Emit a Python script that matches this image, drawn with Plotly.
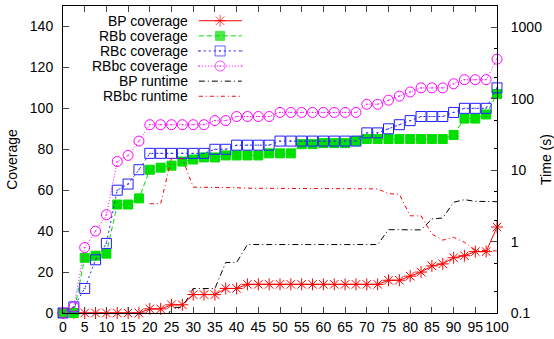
import plotly.graph_objects as go
import math

# ---- data ----
x_vals = [0, 2.5, 5, 7.5, 10, 12.5, 15, 17.5, 20, 22.5, 25, 27.5, 30, 32.5, 35, 37.5, 40,
          42.5, 45, 47.5, 50, 52.5, 55, 57.5, 60, 62.5, 65, 67.5, 70, 72.5, 75, 77.5, 80,
          82.5, 85, 87.5, 90, 92.5, 95, 97.5, 100]

bp_cov = [0, 0, 0, 0, 0, 0, 0, 0, 2, 2, 4, 4, 9, 9, 9, 12, 12, 14, 14, 14, 14, 14, 14, 14,
          14, 14, 14, 14, 14, 14, 16, 16, 18, 20, 23, 24, 27, 28, 30, 30, 42]
rbb_cov = [0, 0, 27, 28, 29, 53, 53, 56, 70, 71, 72, 74, 75, 76, 76, 77, 77, 77, 77, 78, 78,
           78, 82.5, 82.5, 83, 83, 83, 84, 85, 85, 85, 85, 85, 85, 85, 85, 87, 95, 95, 97, 107]
rbc_cov = [0, 3, 12, 26, 34, 60, 63, 70, 78, 78, 78, 78, 78, 78, 80, 80, 82, 82, 82, 82, 84,
           84, 84, 84, 84, 84, 84, 84, 88, 88, 90, 92, 94, 96, 96, 96, 98, 100, 100, 100, 110]
rbbc_cov = [0, 3, 32, 40, 48, 74, 77, 84, 92, 92, 92, 92, 92, 92, 94, 94, 96, 96, 96, 96, 98,
            98, 98, 98, 98, 98, 98, 98, 102, 102, 104, 106, 108, 110, 110, 110, 112, 114, 114,
            114, 124]
bp_rt = [0.05, 0.05, 0.05, 0.05, 0.05, 0.05, 0.05, 0.05, 0.05, 0.05, 0.12, 0.12, 0.22, 0.22,
         0.22, 0.51, 0.51, 0.91, 0.91, 0.91, 0.91, 0.91, 0.91, 0.91, 0.91, 0.91, 0.91, 0.91,
         0.91, 0.91, 1.47, 1.47, 1.46, 1.46, 2.08, 2.14, 3.56, 3.87, 3.67, 3.63, 3.63]
rbbc_rt = [None, None, None, None, None, None, None, None, 3.4, 3.4, 14.7, 14.7, 5.8, 5.8, 5.8,
           5.7, 5.7, 5.6, 5.6, 5.6, 5.55, 5.55, 5.5, 5.5, 5.5, 5.5, 5.5, 5.5, 5.5, 5.46, 4.7,
           4.6, 2.3, 2.3, 1.28, 1.05, 1.15, 0.98, 0.76, 0.75, 0.74]

x_ticks = [0, 5, 10, 15, 20, 25, 30, 35, 40, 45, 50, 55, 60, 65, 70, 75, 80, 85, 90, 95, 100]
y_ticks = [0, 20, 40, 60, 80, 100, 120, 140]
y2_ticks = [0.1, 1, 10, 100, 1000]
y2_minor = [0.2, 0.5, 2, 5, 20, 50, 200, 500, 2000]

# ---- styles ----
FONT = "Liberation Sans, Arial, sans-serif"
RED = "#ff0000"
GREEN = "#00e000"
BLUE = "#2020ff"
MAGENTA = "#ff00ff"
BLACK = "#000000"

series = [
    dict(name="BP coverage", y=bp_cov, axis="y", color=RED, dash="solid",
         symbol="asterisk-open", msize=10, mode="lines+markers"),
    dict(name="RBb coverage", y=rbb_cov, axis="y", color=GREEN, dash="5px,3px",
         symbol="square", msize=9, mode="lines+markers"),
    dict(name="RBc coverage", y=rbc_cov, axis="y", color=BLUE, dash="2px,3px",
         symbol="square-open-dot", msize=10, mode="lines+markers"),
    dict(name="RBbc coverage", y=rbbc_cov, axis="y", color=MAGENTA, dash="1px,2px",
         symbol="circle-open-dot", msize=10, mode="lines+markers"),
    dict(name="BP runtime", y=bp_rt, axis="y2", color=BLACK, dash="6px,3px,1px,3px",
         symbol=None, msize=0, mode="lines"),
    dict(name="RBbc runtime", y=rbbc_rt, axis="y2", color=RED, dash="4px,3px,1px,3px",
         symbol=None, msize=0, mode="lines"),
]

fig = go.Figure()
for s in series:
    marker = None
    if s["symbol"]:
        marker = dict(symbol=s["symbol"], size=s["msize"], color=s["color"],
                      line=dict(color=s["color"], width=1))
    fig.add_trace(go.Scatter(
        x=x_vals, y=s["y"], name=s["name"], mode=s["mode"], yaxis=s["axis"],
        line=dict(color=s["color"], width=1, dash=s["dash"]),
        marker=marker, cliponaxis=False if s["symbol"] else True,
        connectgaps=False, showlegend=False, hoverinfo="skip"))

# ---- custom gnuplot-style legend (text right, sample left) ----
leg_text_x = 0.2926
leg_x0, leg_xm, leg_x1 = 0.313, 0.362, 0.412
leg_y0 = 0.952
leg_dy = 0.0492
for i, s in enumerate(series):
    yy = leg_y0 - i * leg_dy
    fig.add_annotation(x=leg_text_x, y=yy, xref="paper", yref="paper", text=s["name"],
                       showarrow=False, xanchor="right", yanchor="middle",
                       font=dict(family=FONT, size=14, color="#000"))
    marker = dict(size=[0, s["msize"], 0], color=s["color"])
    if s["symbol"]:
        marker["symbol"] = s["symbol"]
        marker["line"] = dict(color=s["color"], width=1)
    fig.add_trace(go.Scatter(
        x=[leg_x0, leg_xm, leg_x1], y=[yy, yy, yy], xaxis="x3", yaxis="y3",
        mode="lines+markers" if s["symbol"] else "lines",
        line=dict(color=s["color"], width=1, dash=s["dash"]),
        marker=marker, showlegend=False, hoverinfo="skip", cliponaxis=False))

axis_font = dict(family=FONT, size=14, color="#000")
fig.update_layout(
    width=554, height=339,
    margin=dict(l=63, r=57, t=6, b=26),
    paper_bgcolor="white", plot_bgcolor="white",
    font=axis_font,
    xaxis=dict(range=[0, 100], tickvals=x_ticks, ticks="inside", ticklen=6, tickangle=0,
               showline=True, linecolor="black", linewidth=1, mirror="ticks",
               showgrid=False, zeroline=False, tickfont=axis_font, ticklabelstandoff=1,
               automargin=False),
    yaxis=dict(range=[0, 150], tickvals=y_ticks, ticks="inside", ticklen=6,
               showline=True, linecolor="black", linewidth=1, automargin=False,
               showgrid=False, zeroline=False, tickfont=axis_font, ticklabelstandoff=6,
               title=dict(text="Coverage", font=axis_font, standoff=8)),
    yaxis2=dict(type="log", range=[-1, math.log10(2000)], overlaying="y", side="right",
                tickvals=y2_ticks, ticktext=["0.1", "1", "10", "100", "1000"],
                ticks="inside", ticklen=6, showline=True, linecolor="black", linewidth=1,
                showgrid=False, zeroline=False, tickfont=axis_font, ticklabelstandoff=10,
                automargin=False,
                minor=dict(tickvals=y2_minor, ticks="inside", ticklen=3, tickcolor="black",
                           showgrid=False),
                title=dict(text="Time (s)", font=axis_font, standoff=7)),
    xaxis3=dict(range=[0, 1], overlaying="x", visible=False, domain=[0, 1]),
    yaxis3=dict(range=[0, 1], overlaying="y", visible=False, domain=[0, 1]),
)

fig.write_html("out.html")
